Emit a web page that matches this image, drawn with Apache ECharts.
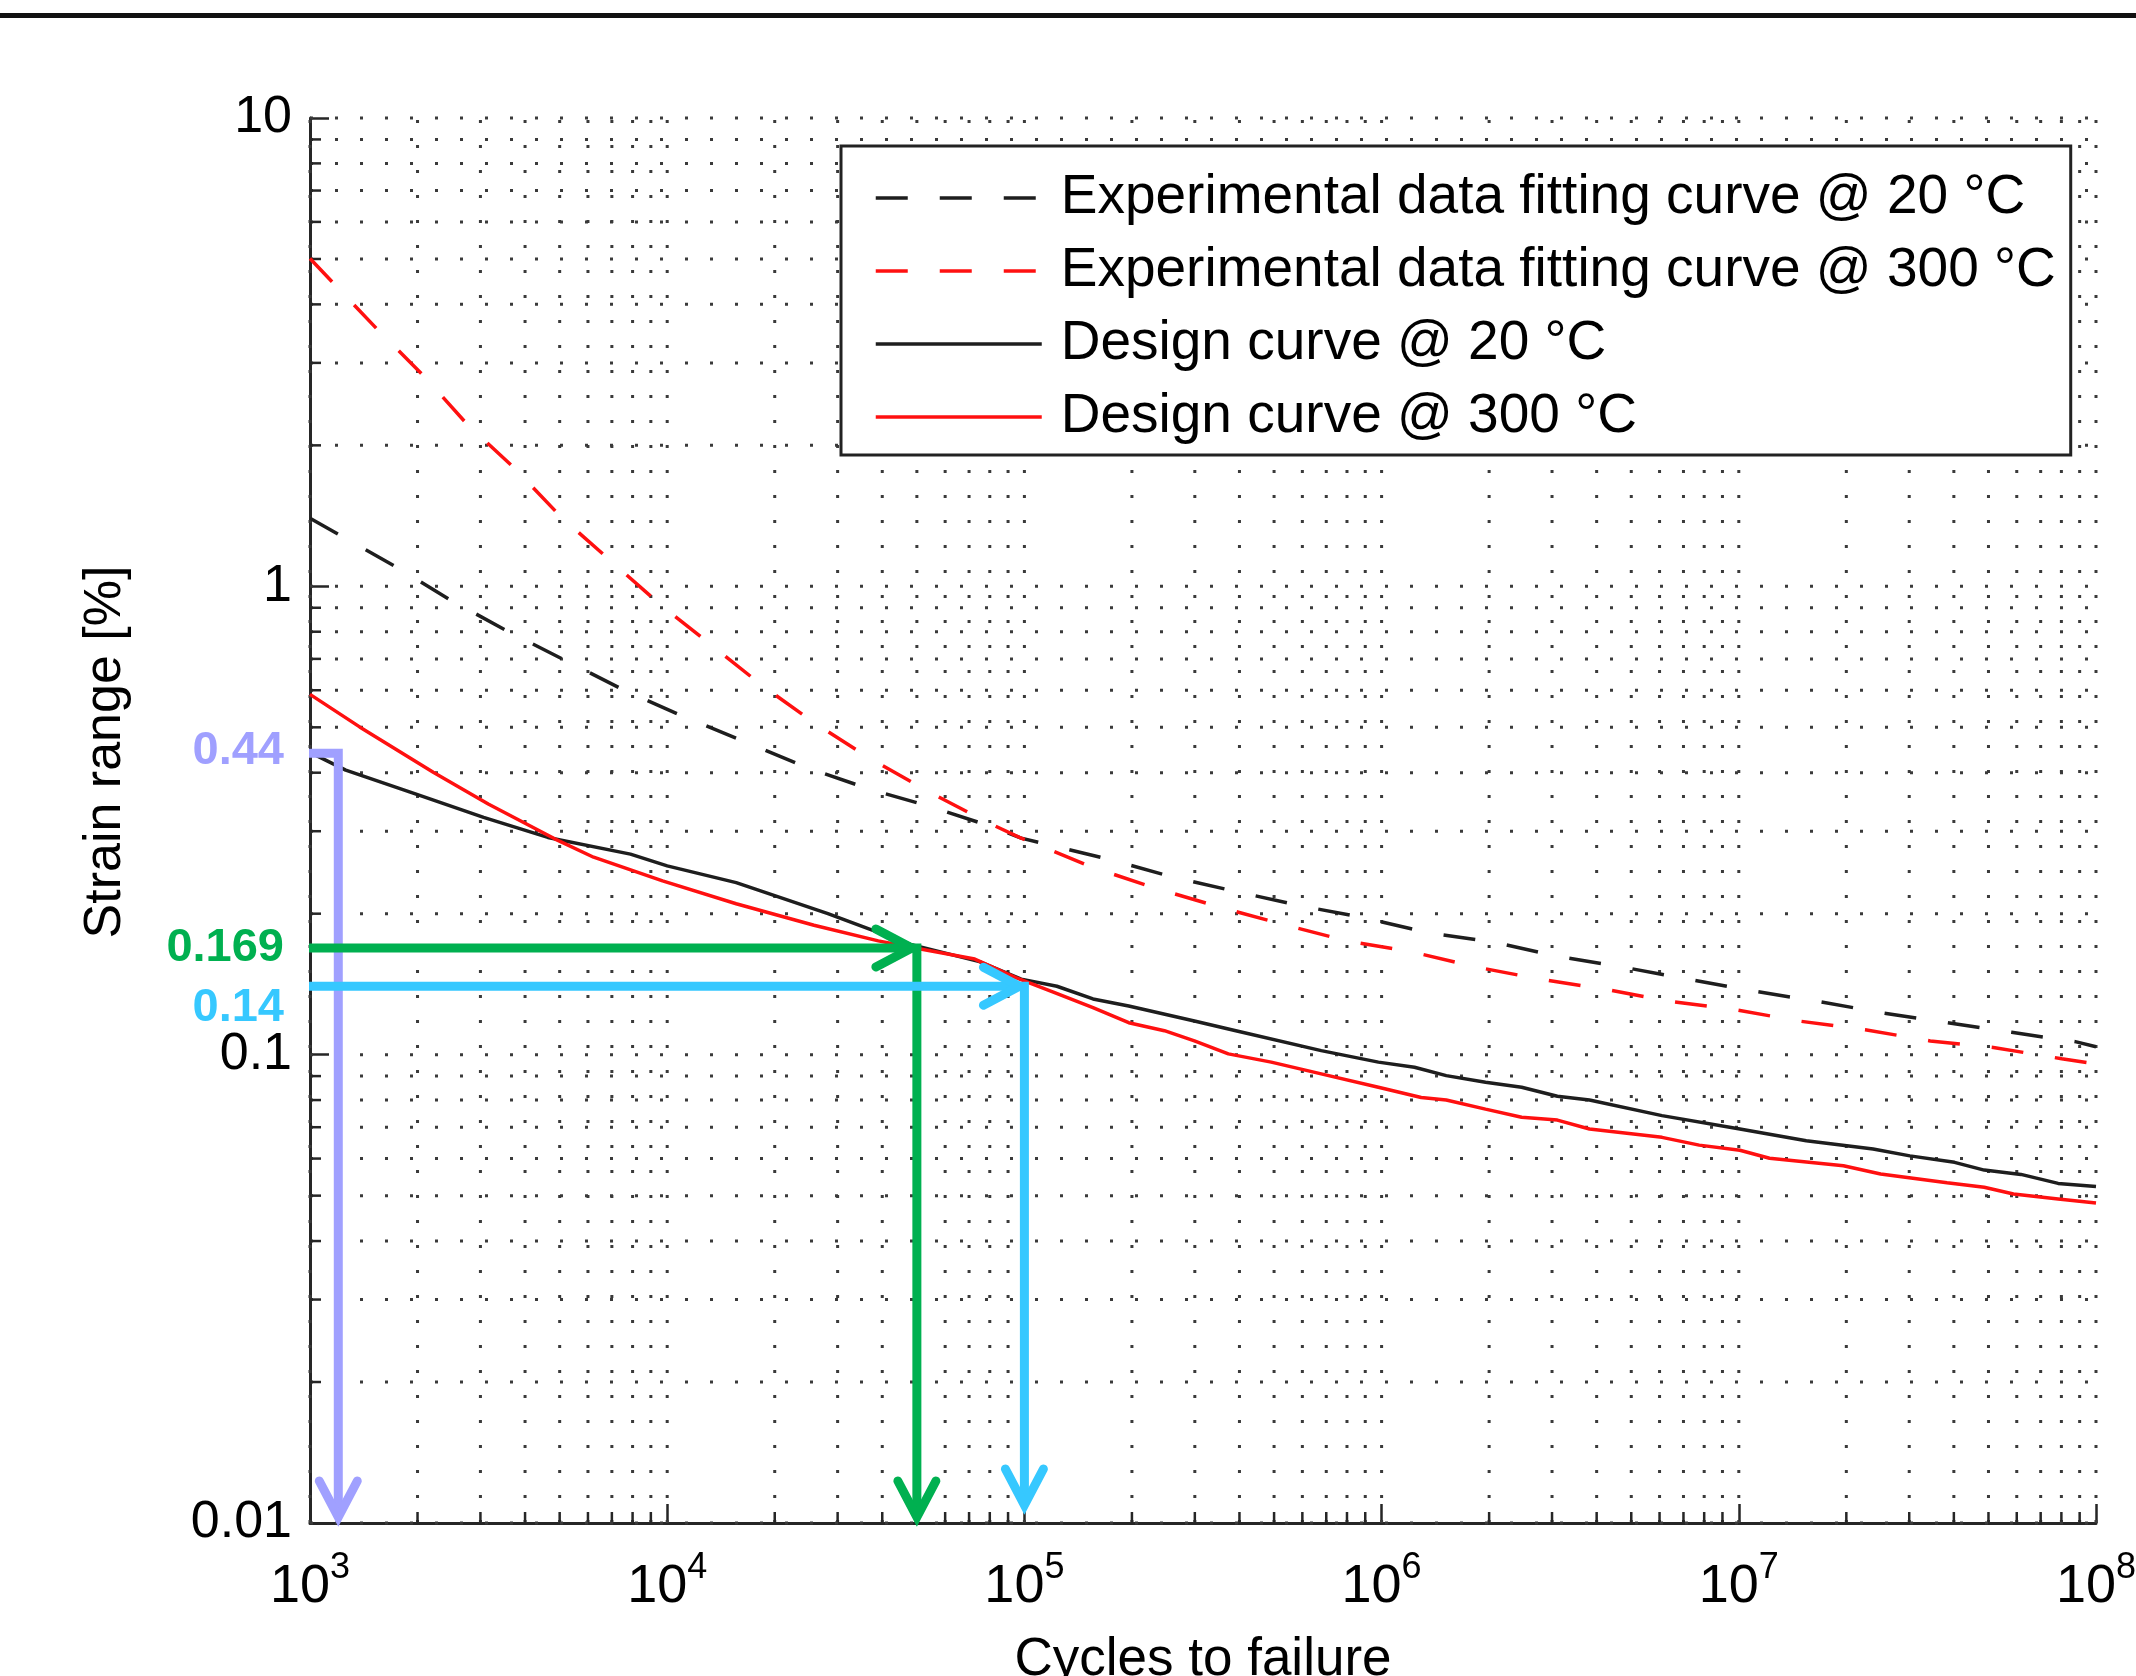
<!DOCTYPE html>
<html>
<head>
<meta charset="utf-8">
<script src="https://cdn.jsdelivr.net/npm/echarts@6/dist/echarts.min.js"></script>
<style>
html,body{margin:0;padding:0;background:#fff;}
#chart{width:2136px;height:1676px;}
</style>
</head>
<body>
<div id="chart"></div>
<script>
// ---------------- DATA ----------------
const xTickExponents = [3, 4, 5, 6, 7, 8];
const yTickLabels = ['0.01', '0.1', '1', '10'];

const seriesNames = [
  'Experimental data fitting curve @ 20 °C',
  'Experimental data fitting curve @ 300 °C',
  'Design curve @ 20 °C',
  'Design curve @ 300 °C'
];

// Experimental data fitting curve @ 20 °C
const exp20Cycles = [1000, 1718, 2472, 3597, 5236, 7674, 11250, 16710, 24660, 36810, 54950, 81850, 97950, 170200, 257600, 390800, 591600, 895400, 1355000, 2051000, 3126000, 4688000, 7211000, 10810000, 16600000, 24950000, 38280000, 58080000, 88100000, 100000000];
const exp20Strain = [1.398, 1.107, 0.935, 0.800, 0.692, 0.597, 0.525, 0.464, 0.410, 0.369, 0.338, 0.306, 0.290, 0.262, 0.240, 0.223, 0.208, 0.196, 0.182, 0.174, 0.162, 0.154, 0.145, 0.137, 0.130, 0.123, 0.117, 0.1116, 0.1065, 0.104];

// Experimental data fitting curve @ 300 °C
const exp300Cycles = [1000, 1542, 2075, 2767, 3758, 5047, 6934, 9528, 13270, 18490, 26120, 37330, 54080, 78340, 96830, 155600, 235500, 356500, 526000, 798000, 1205000, 1828000, 2767000, 4207000, 6397000, 9817000, 14720000, 22590000, 34360000, 52120000, 80170000, 100000000];
const exp300Strain = [5.01, 3.54, 2.82, 2.21, 1.78, 1.406, 1.135, 0.916, 0.750, 0.613, 0.508, 0.427, 0.364, 0.314, 0.291, 0.251, 0.226, 0.206, 0.190, 0.175, 0.166, 0.154, 0.145, 0.138, 0.130, 0.1247, 0.118, 0.113, 0.107, 0.1035, 0.098, 0.0955];

// Design curve @ 20 °C
const design20Cycles = [1000, 1259, 1963, 3062, 4634, 7889, 10000, 15600, 28180, 47970, 74820, 97950, 123300, 155600, 195900, 299200, 390800, 677600, 979500, 1236000, 1517000, 1954000, 2466000, 3105000, 3819000, 6095000, 10070000, 15450000, 23770000, 30130000, 40180000, 48640000, 61660000, 78340000, 100000000];
const design20Strain = [0.442, 0.405, 0.361, 0.321, 0.291, 0.268, 0.253, 0.233, 0.200, 0.172, 0.158, 0.145, 0.140, 0.1315, 0.127, 0.118, 0.1125, 0.102, 0.0964, 0.094, 0.0902, 0.0873, 0.0852, 0.0815, 0.080, 0.0741, 0.0694, 0.0655, 0.0629, 0.0608, 0.0589, 0.0567, 0.0555, 0.0531, 0.0523];

// Design curve @ 300 °C
const design300Cycles = [1000, 1377, 2213, 3155, 4842, 6223, 9705, 15600, 25760, 38990, 49430, 72610, 94620, 120500, 155600, 195900, 246600, 299200, 372400, 490900, 677600, 979500, 1291000, 1517000, 1954000, 2466000, 3105000, 3819000, 6095000, 7745000, 10070000, 12190000, 19630000, 24950000, 38280000, 48640000, 58750000, 78340000, 100000000];
const design300Strain = [0.588, 0.501, 0.401, 0.343, 0.289, 0.264, 0.235, 0.210, 0.189, 0.175, 0.169, 0.160, 0.146, 0.136, 0.126, 0.117, 0.1125, 0.107, 0.1004, 0.0964, 0.091, 0.0852, 0.081, 0.080, 0.0765, 0.0735, 0.0725, 0.0694, 0.0666, 0.0641, 0.0625, 0.0601, 0.0579, 0.0556, 0.0533, 0.0521, 0.0504, 0.0492, 0.0482];

// Grid positions (log grid, majors + minors)
const xGridCycles = [1e3, 2e3, 3e3, 4e3, 5e3, 6e3, 7e3, 8e3, 9e3,
  1e4, 2e4, 3e4, 4e4, 5e4, 6e4, 7e4, 8e4, 9e4,
  1e5, 2e5, 3e5, 4e5, 5e5, 6e5, 7e5, 8e5, 9e5,
  1e6, 2e6, 3e6, 4e6, 5e6, 6e6, 7e6, 8e6, 9e6,
  1e7, 2e7, 3e7, 4e7, 5e7, 6e7, 7e7, 8e7, 9e7, 1e8];
const yGridStrain = [0.01, 0.02, 0.03, 0.04, 0.05, 0.06, 0.07, 0.08, 0.09,
  0.1, 0.2, 0.3, 0.4, 0.5, 0.6, 0.7, 0.8, 0.9,
  1, 2, 3, 4, 5, 6, 7, 8, 9, 10];

// Annotation read-offs
const markerStrain = [0.44, 0.169, 0.14];
const markerCycles = [1200, 50000, 100000];
const markerLabels = ['0.44', '0.169', '0.14'];

// ---------------- STYLE ----------------
const X_MIN = 1e3, X_MAX = 1e8, Y_MIN = 0.01, Y_MAX = 10;
const FONT = '"Liberation Sans", Arial, Helvetica, sans-serif';
const AXIS_COLOR = '#262626';
const BLACK = '#1e1e1e';
const RED = '#ff1010';
const DASH = [32, 32];
const LW = 3.5;
const ARROW_LW = 9;

const annoStyle = [
  { color: '#a0a0ff', headH: false, headV: true, labelDy: -2, tipGap: 0 },
  { color: '#00b050', headH: true, headV: true, labelDy: 0, tipGap: 0 },
  { color: '#36c8ff', headH: true, headV: true, labelDy: 22, tipGap: 12 }
];

function isDecade(v) {
  const l = Math.log10(v);
  return Math.abs(l - Math.round(l)) < 1e-9;
}

function chevron(tip, dir, color) {
  const L = 36, W = 19;
  const dx = dir[0], dy = dir[1];
  const px = -dy, py = dx;
  return {
    type: 'polyline',
    shape: { points: [
      [tip[0] - L * dx + W * px, tip[1] - L * dy + W * py],
      [tip[0], tip[1]],
      [tip[0] - L * dx - W * px, tip[1] - L * dy - W * py]
    ] },
    style: { stroke: color, lineWidth: ARROW_LW, fill: null, lineCap: 'round', lineJoin: 'miter' }
  };
}

const chart = echarts.init(document.getElementById('chart'), null, { renderer: 'canvas' });

function lineSeries(name, cycles, strain, color, dashed) {
  return {
    name: name,
    type: 'line',
    data: cycles.map((c, i) => [c, strain[i]]),
    symbol: 'none',
    showSymbol: false,
    smooth: false,
    z: 3,
    lineStyle: { color: color, width: LW, type: dashed ? DASH : 'solid' },
    itemStyle: { color: color },
    emphasis: { disabled: true }
  };
}

const option = {
  animation: false,
  backgroundColor: '#ffffff',
  grid: { left: 310, right: 40, top: 118, bottom: 153, containLabel: false, outerBoundsMode: 'none' },
  xAxis: {
    type: 'log', logBase: 10, min: X_MIN, max: X_MAX,
    name: 'Cycles to failure', nameLocation: 'middle', nameGap: 107,
    nameTextStyle: { fontSize: 53, fontFamily: FONT, color: '#000', lineHeight: 60 },
    axisLine: { show: true, onZero: false, lineStyle: { color: AXIS_COLOR, width: 3 } },
    axisTick: { show: true, inside: true, length: 19, lineStyle: { color: AXIS_COLOR, width: 2.5 } },
    splitLine: { show: false },
    axisLabel: {
      margin: 27, showMinLabel: true, showMaxLabel: true, hideOverlap: false,
      formatter: function (v) {
        const e = Math.round(Math.log10(v));
        return xTickExponents.indexOf(e) >= 0 ? '{b|10}{s|' + e + '}' : '';
      },
      rich: {
        b: { fontSize: 54, fontFamily: FONT, color: '#000', lineHeight: 64, verticalAlign: 'bottom' },
        s: { fontSize: 36, fontFamily: FONT, color: '#000', lineHeight: 28, verticalAlign: 'top' }
      }
    }
  },
  yAxis: {
    type: 'log', logBase: 10, min: Y_MIN, max: Y_MAX,
    axisLine: { show: true, onZero: false, lineStyle: { color: AXIS_COLOR, width: 3 } },
    axisTick: { show: true, inside: true, length: 19, lineStyle: { color: AXIS_COLOR, width: 2.5 } },
    splitLine: { show: false },
    axisLabel: {
      margin: 18, fontSize: 52, fontFamily: FONT, color: '#000',
      showMinLabel: true, showMaxLabel: true,
      formatter: function (v) {
        const idx = Math.round(Math.log10(v)) + 2;
        return yTickLabels[idx] !== undefined ? yTickLabels[idx] : '';
      }
    }
  },
  legend: {
    data: seriesNames,
    orient: 'vertical',
    left: 841, top: 146,
    padding: [22, 15, 8, 33],
    itemWidth: 166, itemHeight: 20, itemGap: 13,
    selectedMode: false,
    backgroundColor: '#ffffff',
    borderColor: '#222222', borderWidth: 3, borderRadius: 0,
    itemStyle: { opacity: 0 },
    lineStyle: { width: LW },
    textStyle: { fontSize: 55, fontFamily: FONT, color: '#000', lineHeight: 60, padding: [0, 0, 0, 14] },
    z: 10
  },
  graphic: [
    { type: 'rect', shape: { x: 0, y: 13, width: 2136, height: 5 }, style: { fill: '#111' }, silent: true },
    { type: 'text', x: 106, y: 752, rotation: Math.PI / 2, silent: true,
      style: { text: 'Strain range [%]', font: '52px ' + FONT, fill: '#000', align: 'center', verticalAlign: 'middle',
               textAlign: 'center', textVerticalAlign: 'middle' } }
  ],
  series: [
    // vertical dotted grid + minor x ticks
    {
      type: 'custom', name: 'xgrid', silent: true, z: 1, clip: false,
      data: xGridCycles.map(v => [v, Y_MIN]),
      encode: { x: 0, y: 1 },
      renderItem: function (params, api) {
        const v = api.value(0);
        const p0 = api.coord([v, Y_MIN]);
        const p1 = api.coord([v, Y_MAX]);
        const children = [
          { type: 'line', shape: { x1: p0[0], y1: p0[1], x2: p1[0], y2: p1[1] },
            style: { stroke: '#3a3a3a', lineWidth: 3, lineDash: [3, 22] } }
        ];
        if (!isDecade(v)) {
          children.push({ type: 'line', shape: { x1: p0[0], y1: p0[1], x2: p0[0], y2: p0[1] - 11 },
            style: { stroke: AXIS_COLOR, lineWidth: 2.5 } });
        }
        return { type: 'group', children: children };
      }
    },
    // horizontal dotted grid + minor y ticks
    {
      type: 'custom', name: 'ygrid', silent: true, z: 1, clip: false,
      data: yGridStrain.map(v => [X_MIN, v]),
      encode: { x: 0, y: 1 },
      renderItem: function (params, api) {
        const v = api.value(1);
        const p0 = api.coord([X_MIN, v]);
        const p1 = api.coord([X_MAX, v]);
        const children = [
          { type: 'line', shape: { x1: p0[0], y1: p0[1], x2: p1[0], y2: p1[1] },
            style: { stroke: '#3a3a3a', lineWidth: 3, lineDash: [3, 22] } }
        ];
        if (!isDecade(v)) {
          children.push({ type: 'line', shape: { x1: p0[0], y1: p0[1], x2: p0[0] + 11, y2: p0[1] },
            style: { stroke: AXIS_COLOR, lineWidth: 2.5 } });
        }
        return { type: 'group', children: children };
      }
    },
    lineSeries(seriesNames[0], exp20Cycles, exp20Strain, BLACK, true),
    lineSeries(seriesNames[1], exp300Cycles, exp300Strain, RED, true),
    lineSeries(seriesNames[2], design20Cycles, design20Strain, BLACK, false),
    lineSeries(seriesNames[3], design300Cycles, design300Strain, RED, false),
    // read-off arrows
    {
      type: 'custom', name: 'readoff', silent: true, z: 6, clip: false,
      data: markerStrain.map((s, i) => [markerCycles[i], s]),
      encode: { x: 0, y: 1 },
      renderItem: function (params, api) {
        const i = params.dataIndex;
        const st = annoStyle[i];
        const n = api.value(0), s = api.value(1);
        const pA = api.coord([X_MIN, s]);
        const pC = api.coord([n, s]);
        const pB = api.coord([n, Y_MIN]);
        const bottom = [pB[0], pB[1] - st.tipGap - 6];
        const children = [
          { type: 'polyline', shape: { points: [[pA[0] - 1, pA[1]], [pC[0], pC[1]], bottom] },
            style: { stroke: st.color, lineWidth: ARROW_LW, fill: null, lineJoin: 'miter', lineCap: 'butt' } }
        ];
        if (st.headH) children.push(chevron([pC[0] - 5, pC[1]], [1, 0], st.color));
        if (st.headV) children.push(chevron(bottom, [0, 1], st.color));
        children.push({
          type: 'text', x: pA[0] - 26, y: pA[1] + st.labelDy,
          style: { text: markerLabels[i], fill: st.color, font: 'bold 47px ' + FONT,
                   align: 'right', verticalAlign: 'middle', textAlign: 'right', textVerticalAlign: 'middle' }
        });
        return { type: 'group', children: children };
      }
    }
  ]
};

chart.setOption(option);
</script>
</body>
</html>
